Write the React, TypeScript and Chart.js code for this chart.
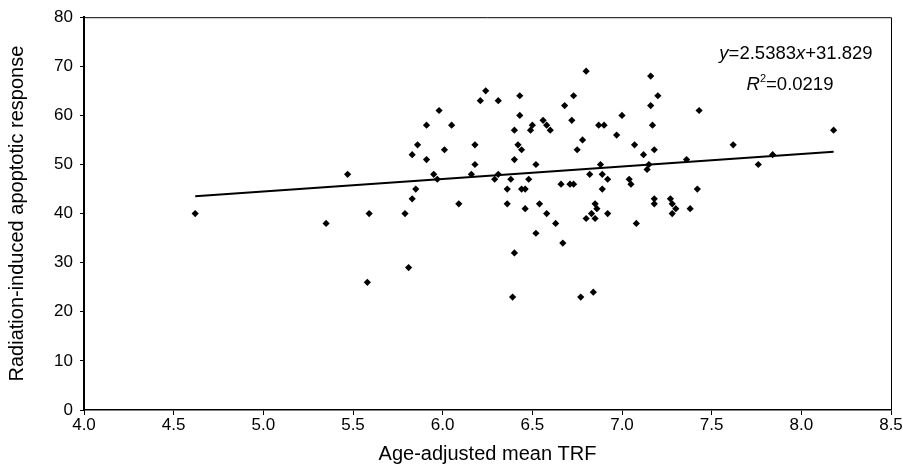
import React, { useEffect, useRef } from "react";
import { Chart, registerables } from "chart.js";

Chart.register(...registerables);

// Age-adjusted mean TRF (x) and radiation-induced apoptotic response (y)
const trfValues = [
  4.62, 5.35, 5.47, 5.58, 5.59, 5.79, 5.81, 5.83, 5.83, 5.85,
  5.86, 5.91, 5.91, 5.95, 5.97, 5.98, 6.01, 6.05, 6.09, 6.16,
  6.18, 6.18, 6.21, 6.24, 6.29, 6.31, 6.31, 6.36, 6.36, 6.38,
  6.39, 6.40, 6.40, 6.40, 6.42, 6.43, 6.43, 6.44, 6.44, 6.46,
  6.46, 6.48, 6.49, 6.50, 6.52, 6.52, 6.54, 6.56, 6.58, 6.58,
  6.60, 6.63, 6.66, 6.67, 6.68, 6.71, 6.72, 6.73, 6.73, 6.75,
  6.77, 6.78, 6.80, 6.80, 6.82, 6.83, 6.84, 6.85, 6.85, 6.86,
  6.87, 6.88, 6.89, 6.89, 6.90, 6.92, 6.92, 6.97, 7.00, 7.04,
  7.05, 7.07, 7.08, 7.12, 7.14, 7.15, 7.16, 7.16, 7.17, 7.18,
  7.18, 7.18, 7.20, 7.27, 7.28, 7.28, 7.30, 7.36, 7.38, 7.42,
  7.43, 7.62, 7.76, 7.84, 8.18,
];
const responseValues = [
  40, 38, 48, 26, 40, 40, 29, 52, 43, 45,
  54, 58, 51, 48, 47, 61, 53, 58, 42, 48,
  54, 50, 63, 65, 47, 63, 48, 45, 42, 47,
  23, 32, 57, 51, 54, 64, 60, 53, 45, 45,
  41, 47, 57, 58, 50, 36, 42, 59, 58, 40,
  57, 38, 46, 34, 62, 46, 59, 64, 46, 53,
  23, 55, 69, 39, 48, 40, 24, 42, 39, 41,
  58, 50, 48, 45, 58, 47, 40, 56, 60, 47,
  46, 54, 38, 52, 49, 50, 68, 62, 58, 53,
  43, 42, 64, 43, 42, 40, 41, 51, 41, 45,
  61, 54, 50, 52, 57,
];

// Linear fit
const fitSlope = 2.5383;
const fitIntercept = 31.829;
const fitXRange = [4.62, 8.18];
const equationText = "y=2.5383x+31.829";
const rSquaredText = "0.0219";

const xTickLabels = ["4.0", "4.5", "5.0", "5.5", "6.0", "6.5", "7.0", "7.5", "8.0", "8.5"];
const yTickLabels = ["0", "10", "20", "30", "40", "50", "60", "70", "80"];

const FONT = '"Liberation Sans", Arial, Helvetica, sans-serif';

export default function App() {
  const canvasRef = useRef<HTMLCanvasElement | null>(null);

  useEffect(() => {
    const canvas = canvasRef.current;
    if (!canvas) return;

    const points = trfValues.map((x, i) => ({ x, y: responseValues[i] }));
    const fitLine = fitXRange.map((x) => ({ x, y: fitSlope * x + fitIntercept }));

    const framePlugin = {
      id: "frame",
      afterDraw(chart: any) {
        const { ctx, chartArea } = chart;
        ctx.save();
        ctx.strokeStyle = "#000";
        ctx.lineWidth = 1;
        ctx.beginPath();
        ctx.moveTo(chartArea.left, chartArea.top + 0.5);
        ctx.lineTo(chartArea.right + 0.5, chartArea.top + 0.5);
        ctx.lineTo(chartArea.right + 0.5, chartArea.bottom);
        ctx.stroke();
        ctx.restore();
      },
    };

    const drawRich = (ctx: CanvasRenderingContext2D, segs: any[], cx: number, baseline: number, size: number) => {
      const fontFor = (s: any) => `${s.italic ? "italic " : ""}${s.sup ? Math.round(size * 0.62) : size}px ${FONT}`;
      let total = 0;
      for (const s of segs) {
        ctx.font = fontFor(s);
        total += ctx.measureText(s.text).width;
      }
      let x = cx - total / 2;
      for (const s of segs) {
        ctx.font = fontFor(s);
        ctx.fillText(s.text, x, s.sup ? baseline - size * 0.42 : baseline);
        x += ctx.measureText(s.text).width;
      }
    };

    const annotationPlugin = {
      id: "fitLabel",
      afterDraw(chart: any) {
        const { ctx } = chart;
        ctx.save();
        ctx.fillStyle = "#000";
        ctx.textBaseline = "alphabetic";
        ctx.textAlign = "left";
        const m = equationText.match(/^y=(.*)x(.*)$/);
        const segs1 = m
          ? [
              { text: "y", italic: true },
              { text: "=" + m[1] },
              { text: "x", italic: true },
              { text: m[2] },
            ]
          : [{ text: equationText }];
        drawRich(ctx, segs1, 796, 59, 18.5);
        const segs2 = [
          { text: "R", italic: true },
          { text: "2", sup: true },
          { text: "=" + rSquaredText },
        ];
        drawRich(ctx, segs2, 790, 90, 18.5);
        ctx.restore();
      },
    };

    const chart = new Chart(canvas, {
      type: "scatter",
      data: {
        datasets: [
          {
            type: "line",
            data: fitLine,
            borderColor: "#000",
            borderWidth: 2,
            pointRadius: 0,
            fill: false,
          } as any,
          {
            data: points,
            pointStyle: "rectRot",
            pointRadius: 3.6,
            backgroundColor: "#000",
            borderColor: "#000",
            borderWidth: 0,
          },
        ],
      },
      options: {
        responsive: false,
        animation: false,
        maintainAspectRatio: false,
        layout: { padding: { top: 15, right: 12, left: 0, bottom: 0 } },
        plugins: {
          legend: { display: false },
          tooltip: { enabled: false },
        },
        scales: {
          x: {
            type: "linear",
            min: parseFloat(xTickLabels[0]),
            max: parseFloat(xTickLabels[xTickLabels.length - 1]),
            afterBuildTicks: (scale: any) => {
              scale.ticks = xTickLabels.map((l) => ({ value: parseFloat(l) }));
            },
            afterFit: (scale: any) => {
              scale.height = 61;
            },
            ticks: {
              callback: (v: any) => {
                const lbl = xTickLabels.find((l) => Math.abs(parseFloat(l) - v) < 1e-6);
                return lbl ?? "";
              },
              color: "#000",
              font: { family: FONT, size: 17 },
              padding: 0,
              maxRotation: 0,
              autoSkip: false,
            },
            grid: { drawOnChartArea: false, drawTicks: true, tickLength: 5, color: "#000", lineWidth: 1 },
            border: { display: true, color: "#000", width: 1.5 },
            title: {
              display: true,
              text: "Age-adjusted mean TRF",
              color: "#000",
              font: { family: FONT, size: 20 },
              padding: { top: 0, bottom: 5 },
            },
          },
          y: {
            type: "linear",
            min: parseFloat(yTickLabels[0]),
            max: parseFloat(yTickLabels[yTickLabels.length - 1]),
            afterBuildTicks: (scale: any) => {
              scale.ticks = yTickLabels.map((l) => ({ value: parseFloat(l) }));
            },
            afterFit: (scale: any) => {
              scale.width = 84;
            },
            ticks: {
              callback: (v: any) => {
                const lbl = yTickLabels.find((l) => Math.abs(parseFloat(l) - v) < 1e-6);
                return lbl ?? "";
              },
              color: "#000",
              font: { family: FONT, size: 17 },
              padding: 7,
              autoSkip: false,
            },
            grid: { drawOnChartArea: false, drawTicks: true, tickLength: 4, color: "#000", lineWidth: 1 },
            border: { display: true, color: "#000", width: 2 },
            title: {
              display: true,
              text: "Radiation-induced apoptotic response",
              color: "#000",
              font: { family: FONT, size: 20 },
              padding: { top: 5, bottom: 0 },
            },
          },
        },
      },
      plugins: [framePlugin, annotationPlugin],
    } as any);

    return () => chart.destroy();
  }, []);

  return (
    <div style={{ position: "fixed", left: 0, top: 0, width: 903, height: 471, background: "#fff" }}>
      <canvas ref={canvasRef} width={903} height={471} style={{ display: "block" }} />
    </div>
  );
}
